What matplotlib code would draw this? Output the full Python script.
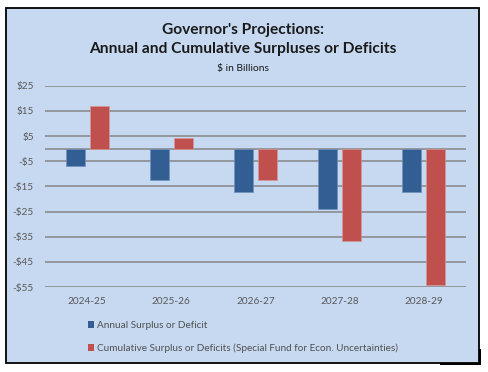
import matplotlib
matplotlib.use("Agg")
import matplotlib.pyplot as plt
import numpy as np
from matplotlib.patches import Rectangle, Patch

years = ["2024-25", "2025-26", "2026-27", "2027-28", "2028-29"]
annual = [-6.9, -12.6, -17.1, -24.1, -17.4]
cumulative = [17.1, 4.4, -12.6, -36.7, -54.2]
yticks = [25, 15, 5, -5, -15, -25, -35, -45, -55]
series_names = ["Annual Surplus or Deficit",
                "Cumulative Surplus or Deficits (Special Fund for Econ. Uncertainties)"]

BG = "#c6d9f1"
BLUE = "#335e93"
RED = "#c0504d"
GRID = "#868686"
TXT = "#595959"

plt.rcParams['font.family'] = ['Lato', 'DejaVu Sans']

fig = plt.figure(figsize=(4.89, 3.72), dpi=100)
fig.patch.set_facecolor("white")

W, H = 489, 372
# outer framed panel
fig.patches.append(Rectangle((6 / W, 1 - 363 / H), (479 - 6) / W, (363 - 8) / H,
                             transform=fig.transFigure, facecolor=BG,
                             edgecolor="black", linewidth=1.3, zorder=-2))
# small shadow on right/bottom
fig.patches.append(Rectangle((479 / W, 1 - 365 / H), 2 / W, 16 / H,
                             transform=fig.transFigure, facecolor="black",
                             edgecolor="none", zorder=-2))
fig.patches.append(Rectangle((440 / W, 1 - 365 / H), 41 / W, 2 / H,
                             transform=fig.transFigure, facecolor="black",
                             edgecolor="none", zorder=-2))

ax = fig.add_axes([45 / W, 1 - 287 / H, 421 / W, (287 - 85.7) / H])
ax.set_zorder(2)
ax.set_facecolor("none")
x = np.arange(len(years))
bw = 0.225
off = 0.143
ax.bar(x - off, annual, width=bw, color=BLUE, edgecolor="#6f93c0", linewidth=0.5,
       zorder=3, label=series_names[0])
ax.bar(x + off, cumulative, width=bw, color=RED, edgecolor="#d99694", linewidth=0.5,
       zorder=3, label=series_names[1])

ax.set_xlim(-0.5, len(years) - 0.5)
ax.set_ylim(-55, 25)
ax.set_yticks(yticks)
ax.set_yticklabels([("-$%d" % -v) if v < 0 else ("$%d" % v) for v in yticks])
ax.set_xticks(x)
ax.set_xticklabels(years)
ax.grid(axis="y", color=GRID, linewidth=1.1, zorder=1)
ax.axhline(0, color=GRID, linewidth=1.1, zorder=2)
for s in ax.spines.values():
    s.set_visible(False)
ax.tick_params(axis="both", length=0, labelsize=7.2, colors=TXT)
ax.tick_params(axis="y", pad=8)
ax.tick_params(axis="x", pad=7)

fig.text(0.497, 1 - 30 / H, "Governor's Projections:", ha="center", va="center",
         fontsize=11.2, fontweight="bold", color="#1a1a1a")
fig.text(0.497, 1 - 49.5 / H, "Annual and Cumulative Surpluses or Deficits",
         ha="center", va="center", fontsize=11.2, fontweight="bold", color="#1a1a1a")
fig.text(0.497, 1 - 68 / H, "$ in Billions", ha="center", va="center",
         fontsize=7.4, color="#1a1a1a")

handles = [Patch(facecolor=BLUE, edgecolor="none"), Patch(facecolor=RED, edgecolor="none")]
fig.legend(handles, series_names, loc="upper left",
           bbox_to_anchor=(88 / W, 1 - 321 / H), frameon=False, fontsize=7.2,
           labelcolor="#505050", handlelength=0.6, handleheight=0.6, handletextpad=0.3,
           labelspacing=1.35, borderaxespad=0, borderpad=0)

fig.savefig("out.png", dpi=100, facecolor="white")
